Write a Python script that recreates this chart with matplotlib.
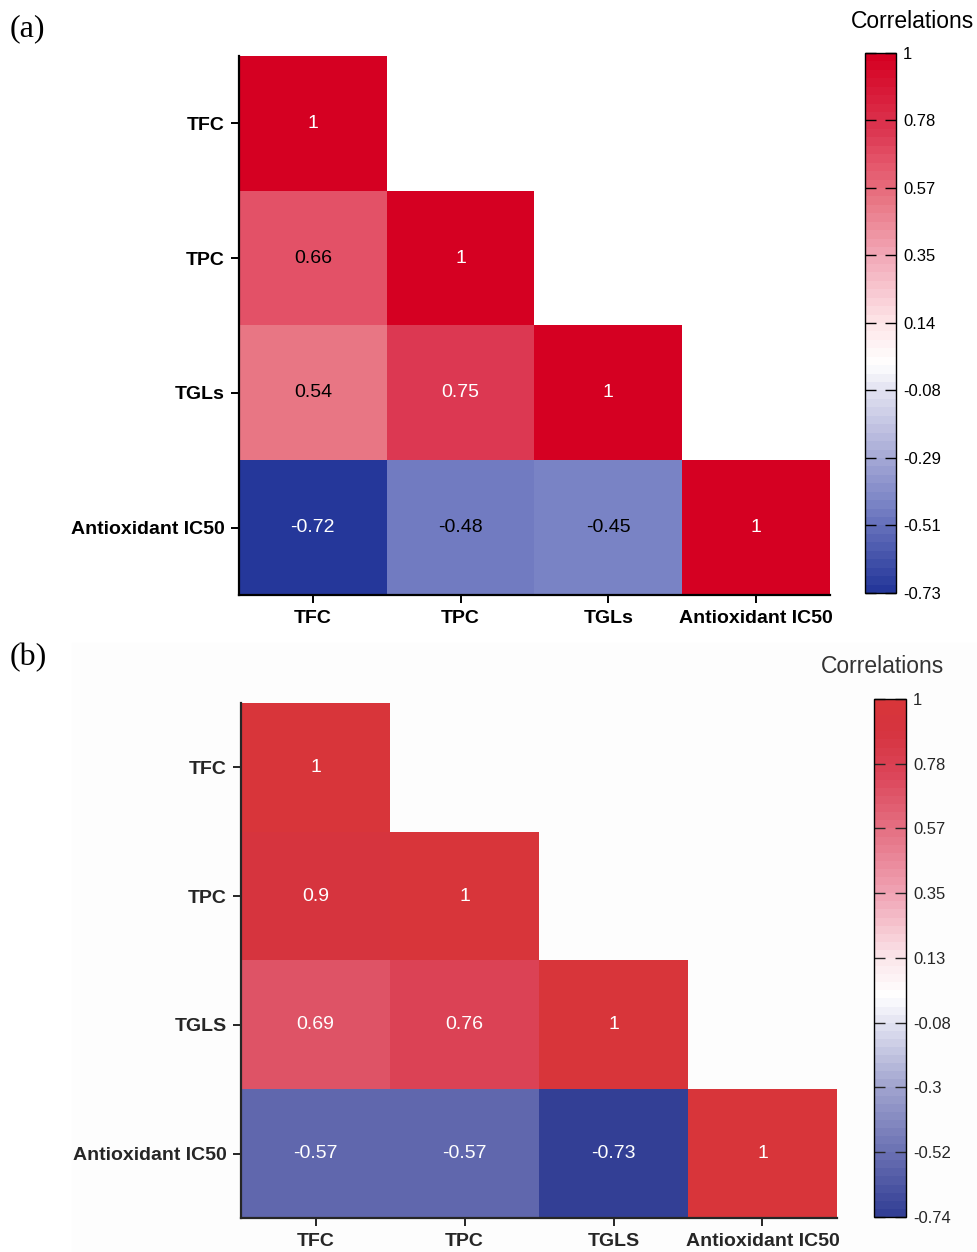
import numpy as np
import matplotlib.pyplot as plt
from matplotlib.colors import LinearSegmentedColormap, Normalize
from matplotlib.patches import Rectangle

plt.rcParams['font.family'] = ['Liberation Sans', 'DejaVu Sans']

nan = np.nan

# variables on each axis
names_a = ["TFC", "TPC", "TGLs", "Antioxidant IC50"]
names_b = ["TFC", "TPC", "TGLS", "Antioxidant IC50"]

# lower triangle correlation matrices
corr_a = [[1, nan, nan, nan],
          [0.66, 1, nan, nan],
          [0.54, 0.75, 1, nan],
          [-0.72, -0.48, -0.45, 1]]
corr_b = [[1, nan, nan, nan],
          [0.9, 1, nan, nan],
          [0.69, 0.76, 1, nan],
          [-0.57, -0.57, -0.73, 1]]

# colour scale limits and colorbar tick labels
range_a = (-0.73, 1.0)
range_b = (-0.74, 1.0)
cb_labels_a = ["-0.73", "-0.51", "-0.29", "-0.08", "0.14", "0.35", "0.57", "0.78", "1"]
cb_labels_b = ["-0.74", "-0.52", "-0.3", "-0.08", "0.13", "0.35", "0.57", "0.78", "1"]


def make_cmap(nodes, vmin, vmax):
    pts = [((v - vmin) / (vmax - vmin), c) for v, c in nodes]
    return LinearSegmentedColormap.from_list("corr", pts, N=64)


cmap_a = make_cmap([(-0.73, "#25379a"), (-0.45, "#7b84c6"), (-0.29, "#a9acd7"),
                    (-0.08, "#e3e3f1"), (0.0, "#ffffff"), (0.14, "#fde4e7"),
                    (0.35, "#f2a9b8"), (0.54, "#e87482"), (0.66, "#e4546a"),
                    (0.75, "#dc3953"), (1.0, "#d50022")], *range_a)
cmap_b = make_cmap([(-0.74, "#333f95"), (-0.57, "#6168ae"), (-0.3, "#a3a6d0"),
                    (-0.08, "#e6e6f3"), (0.0, "#ffffff"), (0.13, "#fbe6ea"),
                    (0.35, "#f0a3b4"), (0.69, "#de5467"), (0.76, "#dc4458"),
                    (0.9, "#d5343f"), (1.0, "#d8353a")], *range_b)


def draw_panel(ax, cax, corr, names, cmap, vrange, cb_labels, white_all, txt_col):
    data = np.ma.masked_invalid(np.array(corr, dtype=float))
    norm = Normalize(*vrange)
    n = len(names)
    mesh = ax.pcolormesh(np.arange(n + 1), np.arange(n + 1), data, cmap=cmap, norm=norm)
    ax.set_xlim(0, n)
    ax.set_ylim(n, 0)
    ax.set_xticks(np.arange(n) + 0.5)
    ax.set_yticks(np.arange(n) + 0.5)
    ax.set_xticklabels(names, fontsize=14, fontweight='bold', color=txt_col)
    ax.set_yticklabels(names, fontsize=14, fontweight='bold', color=txt_col)
    for s in ["top", "right"]:
        ax.spines[s].set_visible(False)
    for s in ["left", "bottom"]:
        ax.spines[s].set_linewidth(1.6)
        ax.spines[s].set_color(txt_col)
    ax.tick_params(length=6, width=1.4, pad=4.5, color=txt_col)
    ax.set_facecolor("none")

    for i in range(n):
        for j in range(n):
            v = corr[i][j]
            if np.isnan(v):
                continue
            col = "white" if (white_all or abs(v) >= 0.7) else "black"
            ax.text(j + 0.5, i + 0.5, f"{v:g}", ha="center", va="center",
                    fontsize=14, color=col)

    cb = plt.colorbar(mesh, cax=cax, ticks=np.linspace(*vrange, 9))
    cb.set_ticklabels(cb_labels)
    cb.outline.set_linewidth(1.0)
    cax.tick_params(left=True, right=True, direction="in", length=8, width=1.0,
                    labelsize=12, pad=5, colors=txt_col)
    return cb


fig = plt.figure(figsize=(9.77, 12.52), dpi=100)

# faint backdrop behind the second panel
fig.patches.append(Rectangle((72 / 977, 0), 1 - 72 / 977, 1 - 643 / 1252,
                             transform=fig.transFigure, color="#fdfdfd", zorder=-5))

ax_a = fig.add_axes([0.2446, 0.5248, 0.6049, 0.4305])
cax_a = fig.add_axes([0.8854, 0.5264, 0.0317, 0.4313])
ax_b = fig.add_axes([0.2467, 0.0272, 0.6100, 0.4113])
cax_b = fig.add_axes([0.8946, 0.0280, 0.0328, 0.4137])

draw_panel(ax_a, cax_a, corr_a, names_a, cmap_a, range_a, cb_labels_a, False, "black")
draw_panel(ax_b, cax_b, corr_b, names_b, cmap_b, range_b, cb_labels_b, True, "#262626")

fig.text(912 / 977, 1 - 22 / 1252, "Correlations", ha="center", va="center", fontsize=16.5)
fig.text(883 / 977, 1 - 667 / 1252, "Correlations", ha="center", va="center",
         fontsize=16.5, color="#333333")

fig.text(10 / 977, 1 - 29 / 1252, "(a)", ha="left", va="center", fontsize=23,
         family="Liberation Serif")
fig.text(10 / 977, 1 - 658 / 1252, "(b)", ha="left", va="center", fontsize=23,
         family="Liberation Serif")

fig.savefig("out.png", dpi=100)
